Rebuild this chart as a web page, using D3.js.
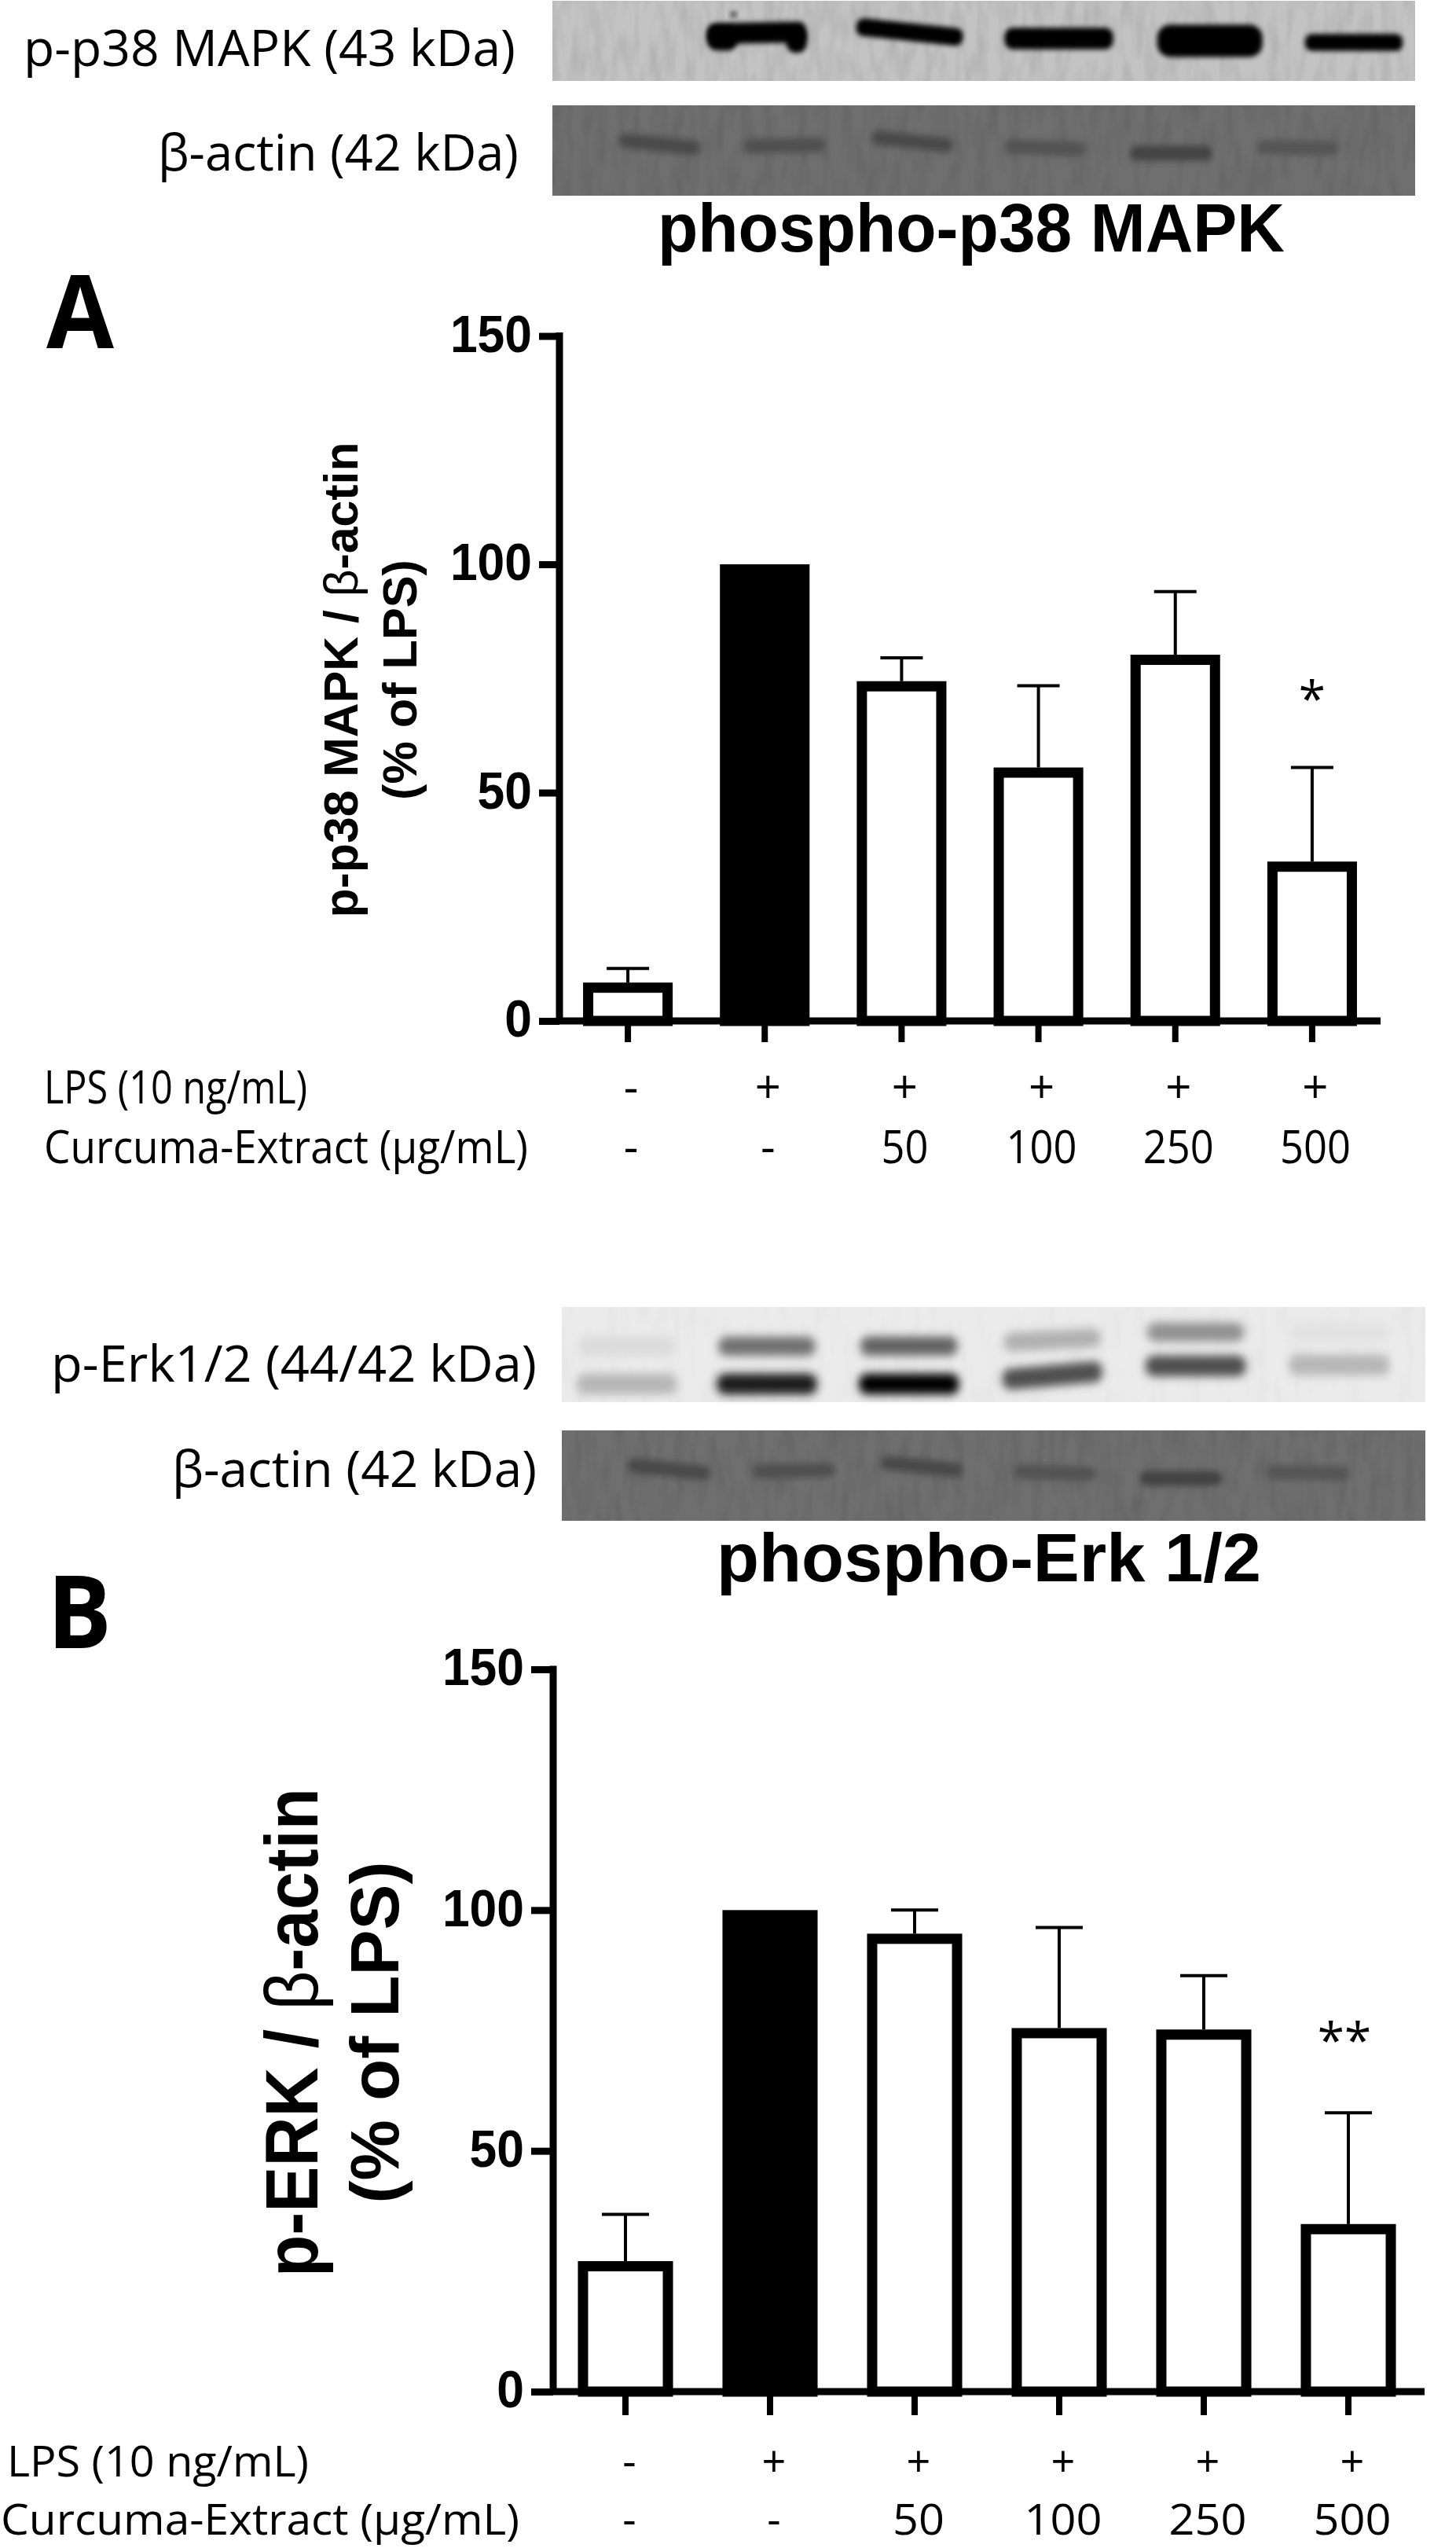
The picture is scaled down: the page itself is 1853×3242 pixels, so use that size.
<!DOCTYPE html>
<html>
<head>
<meta charset="utf-8">
<script src="https://cdn.jsdelivr.net/npm/d3@7"></script>
<style>
  body { margin: 0; background: #fff; }
  svg { display: block; }
  text { fill: #000; }
  .sans { font-family: "Open Sans", sans-serif; }
  .arial { font-family: "Liberation Sans", sans-serif; font-weight: 700; }
</style>
</head>
<body>
<div id="root"></div>
<script>
// chart data
const lanes = ['ctrl', 'lps', 'c50', 'c100', 'c250', 'c500'];
const lpsLabels = ['-', '+', '+', '+', '+', '+'];
const extractLabels = ['-', '-', '50', '100', '250', '500'];
const yTicks = [0, 50, 100, 150];

const p38Values = [8.4, 100, 74.4, 55.5, 80.2, 34.9];
const p38Errors = [3.1, 0, 5.1, 17.9, 13.8, 20.6];
const p38Stars = ['', '', '', '', '', '*'];

const erkValues = [27.1, 100, 95.1, 75.5, 75.2, 34.8];
const erkErrors = [9.7, 0, 4.9, 20.9, 11.2, 23.1];
const erkStars = ['', '', '', '', '', '**'];

// blot band darkness per lane (0 = background, 1 = black)
const p38Bands = [0, 1, 1, 1, 1, 1];
const actinBands = [0.6, 0.5, 0.6, 0.45, 0.7, 0.4];
const erkUpperBands = [0.07, 0.52, 0.58, 0.25, 0.38, 0.04];
const erkLowerBands = [0.22, 0.88, 1, 0.66, 0.66, 0.22];

const svg = d3.select('#root').append('svg')
  .attr('width', 1853)
  .attr('height', 3242)
  .attr('viewBox', [0, 0, 1853, 3242]);

const defs = svg.append('defs');
[3, 4, 6].forEach((s) => {
  defs.append('filter').attr('id', `blur${s}`)
    .attr('x', '-30%').attr('y', '-100%').attr('width', '160%').attr('height', '300%')
    .append('feGaussianBlur').attr('stdDeviation', s);
});
// faint mottling the scanned blots have
const grain = defs.append('filter').attr('id', 'grain').attr('x', 0).attr('y', 0).attr('width', '100%').attr('height', '100%');
grain.append('feTurbulence').attr('type', 'fractalNoise').attr('baseFrequency', '0.07 0.02').attr('numOctaves', 2).attr('seed', 4);
grain.append('feColorMatrix').attr('values', '0 0 0 0 0  0 0 0 0 0  0 0 0 0 0  1.1 0 0 0 -0.42');

// text squeezed or stretched to the width it has in the figure
function label(x, y, str, size, cls, width, anchor) {
  const t = svg.append('text')
    .attr('class', cls)
    .attr('x', x)
    .attr('y', y)
    .attr('font-size', size)
    .attr('text-anchor', anchor || 'start')
    .text(str);
  if (width) t.attr('textLength', width).attr('lengthAdjust', 'spacingAndGlyphs');
  return t;
}

function blotPanel(x0, x1, y0, y1, bg, streak) {
  svg.append('rect').attr('x', x0).attr('y', y0).attr('width', x1 - x0).attr('height', y1 - y0).attr('fill', bg);
  svg.append('rect').attr('x', x0).attr('y', y0).attr('width', x1 - x0).attr('height', y1 - y0)
    .attr('filter', 'url(#grain)').attr('opacity', streak);
  return svg.append('g');
}

// band: centre and size are fractions of the blot panel
function band(g, x0, x1, y0, y1, fx, fy, fw, fh, color, tilt, blur) {
  const sx = d3.scaleLinear().domain([0, 1]).range([x0, x1]);
  const sy = d3.scaleLinear().domain([0, 1]).range([y0, y1]);
  const w = fw * (x1 - x0), h = fh * (y1 - y0);
  g.append('rect')
    .attr('x', sx(fx) - w / 2)
    .attr('y', sy(fy) - h / 2)
    .attr('width', w)
    .attr('height', h)
    .attr('rx', h / 2.5)
    .attr('fill', color)
    .attr('filter', `url(#blur${blur})`)
    .attr('transform', `rotate(${tilt} ${sx(fx)} ${sy(fy)})`);
}

function actinBlot(x0, x1, y0, y1) {
  const g = blotPanel(x0, x1, y0, y1, '#6f6f6f', 0.16);
  const shade = d3.scaleLinear().domain([0, 1]).range(['#6f6f6f', '#2e2e2e']);
  const cx = [0.124, 0.269, 0.417, 0.571, 0.717, 0.864];
  const cy = [0.43, 0.445, 0.40, 0.47, 0.53, 0.47];
  const tilt = [6, -1, 6, 2, 0, 1];
  actinBands.forEach((d, i) => band(g, x0, x1, y0, y1, cx[i], cy[i], 0.095, 0.16, shade(d), tilt[i], 4));
}

// phospho-p38 blot
{
  const x0 = 703, x1 = 1801, y0 = 1, y1 = 103;
  const g = blotPanel(x0, x1, y0, y1, '#c3c3c3', 0.16);
  const cx = [0, 0.237, 0.414, 0.587, 0.762, 0.929];
  const cy = [0, 0.40, 0.39, 0.47, 0.50, 0.52];
  const w = [0, 0.115, 0.124, 0.126, 0.122, 0.113];
  const h = [0, 0.26, 0.22, 0.27, 0.40, 0.21];
  const tilt = [0, -1, 6, 0, 0, 0];
  p38Bands.forEach((d, i) => { if (d) band(g, x0, x1, y0, y1, cx[i], cy[i], w[i], h[i], '#000', tilt[i], 3); });
  // the LPS band droops at both ends
  band(g, x0, x1, y0, y1, 0.197, 0.47, 0.035, 0.3, '#000', 0, 3);
  band(g, x0, x1, y0, y1, 0.283, 0.5, 0.024, 0.3, '#000', 0, 3);
  band(g, x0, x1, y0, y1, 0.21, 0.17, 0.008, 0.07, '#444', 0, 3);
}
actinBlot(703, 1801, 134, 249);

// phospho-Erk blot
{
  const x0 = 715, x1 = 1814, y0 = 1663, y1 = 1784;
  const g = blotPanel(x0, x1, y0, y1, '#ebebeb', 0.04);
  const shade = d3.scaleLinear().domain([0, 1]).range(['#ebebeb', '#000']);
  const cx = [0.0755, 0.2375, 0.402, 0.568, 0.734, 0.90];
  const upY = [0.413, 0.413, 0.41, 0.347, 0.264, 0.264];
  const lowY = [0.81, 0.81, 0.81, 0.72, 0.62, 0.61];
  erkUpperBands.forEach((d, i) => band(g, x0, x1, y0, y1, cx[i], upY[i], 0.112, 0.2, shade(d), i === 3 ? -3 : 0, 6));
  erkLowerBands.forEach((d, i) => band(g, x0, x1, y0, y1, cx[i], lowY[i], 0.116, 0.22, shade(d), i === 3 ? -5 : 0, 6));
}
actinBlot(715, 1814, 1820, 1935);

// blot labels and titles
label(30, 84, 'p-p38 MAPK (43 kDa)', 64, 'sans', 626);
label(201, 217, 'β-actin (42 kDa)', 64, 'sans', 459);
label(65, 1758, 'p-Erk1/2 (44/42 kDa)', 64, 'sans', 618);
label(219, 1892, 'β-actin (42 kDa)', 64, 'sans', 464);
label(837, 320, 'phospho-p38 MAPK', 88, 'arial', 798);
label(912, 2012, 'phospho-Erk 1/2', 88, 'arial', 693);
label(59, 443, 'A', 129, 'sans', 86).attr('font-weight', 700);
label(60, 2097, 'B', 129, 'sans', 82).attr('font-weight', 700);

function barChart(cfg) {
  const y = d3.scaleLinear().domain([0, 150]).range([cfg.yBottom, cfg.yTop]);
  const x = d3.scaleBand().domain(lanes).range([cfg.xLeft, cfg.xRight]).paddingInner(cfg.padding).paddingOuter(cfg.padding / 2);
  const sw = 13;
  const g = svg.append('g');

  // error bars go behind the bar tops
  const rows = lanes.map((id, i) => ({ id, value: cfg.values[i], err: cfg.errors[i], star: cfg.stars[i] }));
  const errs = g.selectAll('.err').data(rows.filter((d) => d.err > 0)).join('g').attr('class', 'err')
    .attr('transform', (d) => `translate(${x(d.id) + x.bandwidth() / 2}, 0)`)
    .attr('stroke', '#000');
  errs.append('line').attr('stroke-width', 4).attr('y1', (d) => y(d.value)).attr('y2', (d) => y(d.value + d.err));
  errs.append('line').attr('stroke-width', 4).attr('x1', -cfg.cap).attr('x2', cfg.cap)
    .attr('y1', (d) => y(d.value + d.err)).attr('y2', (d) => y(d.value + d.err));

  g.selectAll('.bar').data(rows).join('rect').attr('class', 'bar')
    .attr('x', (d) => x(d.id) + sw / 2)
    .attr('width', x.bandwidth() - sw)
    .attr('y', (d) => y(d.value) + sw / 2)
    .attr('height', (d) => y(0) - y(d.value) - sw / 2)
    .attr('fill', (d) => d.id === 'lps' ? '#000' : '#fff')
    .attr('stroke', '#000')
    .attr('stroke-width', sw);

  const yAxis = g.append('g')
    .attr('transform', `translate(${cfg.xLeft}, 0)`)
    .call(d3.axisLeft(y).tickValues(yTicks).tickSize(cfg.tickLen).tickPadding(9));
  yAxis.selectAll('.tick line').attr('stroke', '#000').attr('stroke-width', 9);
  yAxis.select('.domain').attr('stroke', '#000').attr('stroke-width', 9).attr('d', `M0,${y(150) - 4.5}V${y(0)}`);
  yAxis.selectAll('text')
    .attr('class', 'arial')
    .attr('font-size', 66)
    .attr('font-family', null)
    .attr('dy', '0.3em')
    .attr('textLength', (d) => String(d).length * 34.7)
    .attr('lengthAdjust', 'spacingAndGlyphs');

  const xAxis = g.append('g')
    .attr('transform', `translate(0, ${y(0)})`)
    .call(d3.axisBottom(x).tickFormat('').tickSize(cfg.xTickLen));
  xAxis.selectAll('.tick line').attr('stroke', '#000').attr('stroke-width', 8);
  xAxis.select('.domain').attr('stroke', '#000').attr('stroke-width', 9)
    .attr('d', `M${cfg.xLeft},0H${cfg.xEnd}`);

  // significance stars and the two rows under the axis
  rows.filter((d) => d.star).forEach((d) => {
    label(x(d.id) + x.bandwidth() / 2 + cfg.starDx, y(d.value + d.err) - cfg.starGap, d.star, 62, 'sans', null, 'middle');
  });
  lanes.forEach((id, i) => {
    const cx = x(id) + x.bandwidth() / 2 + cfg.rowDx;
    label(cx, cfg.lpsY, lpsLabels[i], cfg.rowSize, 'sans', null, 'middle');
    const w = extractLabels[i].length > 1 ? extractLabels[i].length * cfg.digitW : null;
    label(cx, cfg.extractY, extractLabels[i], cfg.rowSize, 'sans', w, 'middle');
  });
  label(cfg.lpsX, cfg.lpsY, 'LPS (10 ng/mL)', cfg.rowSize, 'sans', cfg.lpsW);
  label(cfg.extractX, cfg.extractY, 'Curcuma-Extract (µg/mL)', cfg.rowSize, 'sans', cfg.extractW);

  // rotated y title, beta is set in the plain symbol weight
  const title = (base, yc, len, size, parts) => {
    const t = svg.append('text').attr('class', 'arial')
      .attr('transform', `translate(${base}, ${yc}) rotate(-90)`)
      .attr('text-anchor', 'middle')
      .attr('font-size', size)
      .attr('textLength', len)
      .attr('lengthAdjust', 'spacingAndGlyphs');
    parts.forEach(([s, normal]) => t.append('tspan').attr('font-weight', normal ? 400 : 700).text(s));
  };
  title(cfg.title1X, cfg.titleY, cfg.title1Len, cfg.title1Size, [[cfg.title1[0]], ['β', true], [cfg.title1[1]]]);
  title(cfg.title2X, cfg.titleY, cfg.title2Len, cfg.title2Size, [['(% of LPS)']]);
}

barChart({
  values: p38Values, errors: p38Errors, stars: p38Stars,
  yBottom: 1299, yTop: 427.5, xLeft: 712, xRight: 1757, xEnd: 1757, padding: 0.345,
  tickLen: 26, xTickLen: 27, cap: 27,
  starDx: 0, starGap: 66, rowDx: 4, rowSize: 58, digitW: 30,
  lpsY: 1404, extractY: 1480, lpsX: 56, lpsW: 335, extractX: 56, extractW: 616,
  title1: ['p-p38 MAPK / ', '-actin'], title1X: 455, title1Len: 605, title1Size: 62,
  title2X: 530, title2Len: 306, title2Size: 62, titleY: 865
});

barChart({
  values: erkValues, errors: erkErrors, stars: erkStars,
  yBottom: 3043, yTop: 2124, xLeft: 704, xRight: 1808, xEnd: 1813, padding: 0.342,
  tickLen: 28, xTickLen: 30, cap: 30,
  starDx: -5, starGap: 70, rowDx: 5, rowSize: 54, digitW: 33,
  lpsY: 3151, extractY: 3225, lpsX: 9, lpsW: 384, extractX: 1, extractW: 660,
  title1: ['p-ERK / ', '-actin'], title1X: 404, title1Len: 622, title1Size: 94,
  title2X: 507, title2Len: 435, title2Size: 88, titleY: 2586
});
</script>
</body>
</html>
